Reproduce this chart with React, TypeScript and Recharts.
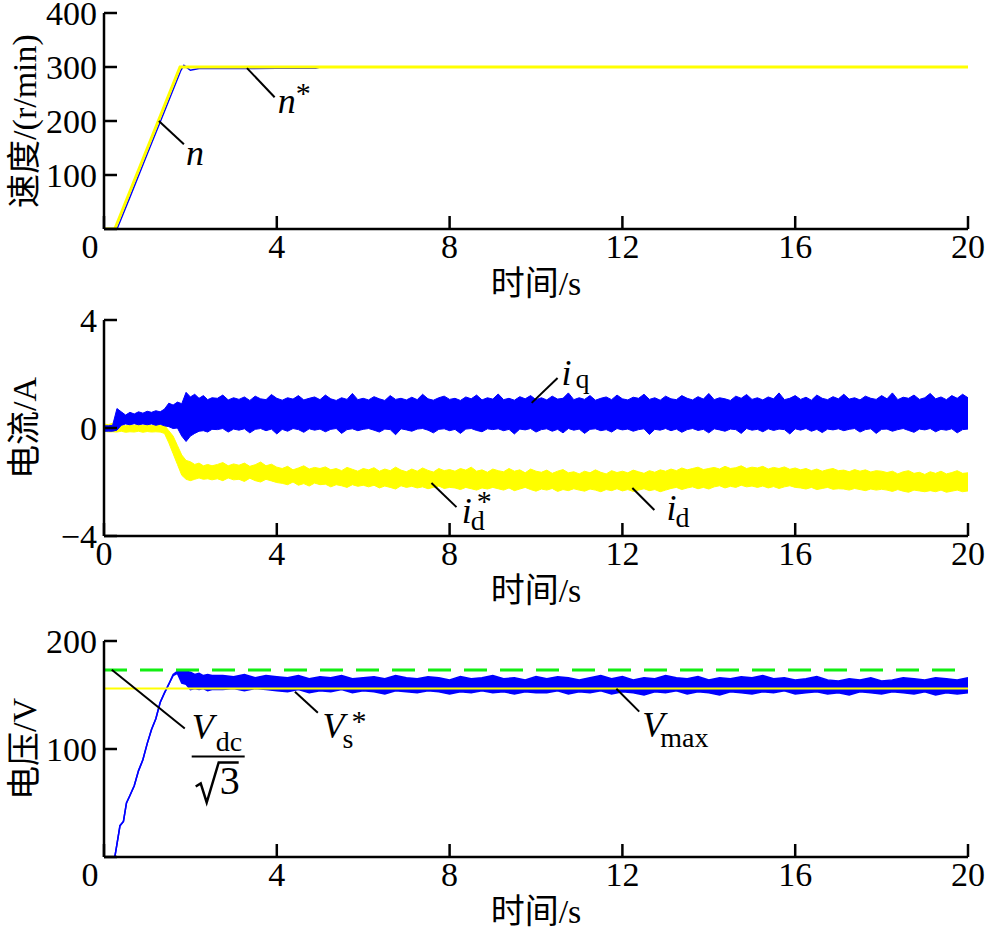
import React from 'react';
import { ComposedChart, Line, Area, XAxis, YAxis, ReferenceLine, ReferenceDot } from 'recharts';

const FONT = '"Liberation Serif", "Noto Sans CJK SC", serif';
const BLUE = '#0000ff';
const YELLOW = '#ffff00';
const GREEN = '#11ee11';

// ---- tick labels ----
const timeTicks = [0, 4, 8, 12, 16, 20];
const speedTicks = [0, 100, 200, 300, 400];
const currentTicks = [-4, 0, 4];
const voltageTicks = [0, 100, 200];

// ---- speed panel ----
const speedRefTime = [0, 0.25, 1.76, 20];
const speedRefValue = [0, 0, 300, 300];
const speedTime = [0, 0.3, 0.6, 1.0, 1.4, 1.78, 1.85, 1.92, 2.0, 2.2, 3.0, 4.0, 4.9, 5.0, 20];
const speedValue = [0, 0, 59, 139, 218, 294, 303, 299, 294, 297, 297, 297.5, 297.5, 300, 300];

// ---- current panel ----
const currentTime = [0, 0.1, 0.2, 0.3, 0.4, 0.5, 0.6, 0.7, 0.8, 0.9, 1, 1.1, 1.2, 1.3, 1.4, 1.5, 1.6, 1.7, 1.8, 1.9, 2, 2.1, 2.2, 2.3, 2.4, 2.5,
  2.625, 2.75, 2.875, 3,
  3.125, 3.25, 3.375, 3.5, 3.625, 3.75, 3.875, 4,
  4.125, 4.25, 4.375, 4.5, 4.625, 4.75, 4.875, 5,
  5.125, 5.25, 5.375, 5.5, 5.625, 5.75, 5.875, 6,
  6.125, 6.25, 6.375, 6.5, 6.625, 6.75, 6.875, 7,
  7.125, 7.25, 7.375, 7.5, 7.625, 7.75, 7.875, 8,
  8.125, 8.25, 8.375, 8.5, 8.625, 8.75, 8.875, 9,
  9.125, 9.25, 9.375, 9.5, 9.625, 9.75, 9.875, 10,
  10.125, 10.25, 10.375, 10.5, 10.625, 10.75, 10.875, 11,
  11.125, 11.25, 11.375, 11.5, 11.625, 11.75, 11.875, 12,
  12.125, 12.25, 12.375, 12.5, 12.625, 12.75, 12.875, 13,
  13.125, 13.25, 13.375, 13.5, 13.625, 13.75, 13.875, 14,
  14.125, 14.25, 14.375, 14.5, 14.625, 14.75, 14.875, 15,
  15.125, 15.25, 15.375, 15.5, 15.625, 15.75, 15.875, 16,
  16.125, 16.25, 16.375, 16.5, 16.625, 16.75, 16.875, 17,
  17.125, 17.25, 17.375, 17.5, 17.625, 17.75, 17.875, 18,
  18.125, 18.25, 18.375, 18.5, 18.625, 18.75, 18.875, 19,
  19.125, 19.25, 19.375, 19.5, 19.625, 19.75, 19.875, 20];
const iqHigh = [0.08, 0.08, 0.1, 0.72, 0.6, 0.48, 0.58, 0.52, 0.6, 0.55, 0.62, 0.58, 0.64, 0.6, 0.7, 0.92, 0.85, 0.96, 0.9, 1.32, 1.15, 1.25, 1.1, 1.2, 1.05, 1.12,
  1.1, 1.22, 1.04, 1.12,
  1.06, 1.15, 1.02, 1.18, 1.08, 1.05, 1.24, 1.1,
  1.03, 1.12, 1.07, 1.2, 1.04, 1.1, 1.15, 1.05,
  1.22, 1.08, 1.02, 1.12, 1.06, 1.28, 1.05, 1.1,
  1.04, 1.16, 1.08, 1.02, 1.2, 1.06, 1.1, 1.04,
  1.14, 1.05, 1.25, 1.08, 1.03, 1.12, 1.18, 1.06,
  1.1, 1.02, 1.15, 1.08, 1.22, 1.04, 1.12, 1.07,
  1.26, 1.05, 1.1, 1.03, 1.16, 1.08, 1.2, 1.05,
  1.12, 1.04, 1.18, 1.07, 1.1, 1.3, 1.05, 1.12,
  1.06, 1.2, 1.03, 1.1, 1.15, 1.05, 1.22, 1.08,
  1.04, 1.14, 1.1, 1.25, 1.06, 1.12, 1.03, 1.18,
  1.08, 1.05, 1.2, 1.1, 1.04, 1.16, 1.07, 1.28,
  1.05, 1.12, 1.08, 1.02, 1.18, 1.1, 1.24, 1.06,
  1.12, 1.04, 1.15, 1.08, 1.3, 1.05, 1.1, 1.2,
  1.06, 1.14, 1.03, 1.22, 1.1, 1.05, 1.16, 1.08,
  1.25, 1.07, 1.12, 1.04, 1.18, 1.1, 1.06, 1.2,
  1.08, 1.3, 1.05, 1.14, 1.1, 1.22, 1.06, 1.12,
  1.28, 1.08, 1.15, 1.05, 1.2, 1.1, 1.25, 1.12];
const iqLow = [-0.12, -0.12, -0.12, -0.08, 0.1, 0.15, 0.12, 0.16, 0.12, 0.15, 0.12, 0.15, 0.1, 0.14, 0.08, 0.05, -0.02, 0.0, -0.3, -0.5, -0.3, -0.2, -0.12, -0.1, -0.15, -0.05,
  -0.06, -0.02, -0.15, -0.04,
  -0.08, -0.03, -0.18, -0.05, -0.02, -0.1, -0.04, -0.22,
  -0.05, -0.12, -0.02, -0.06, -0.16, -0.03, -0.08, -0.04,
  -0.14, -0.05, -0.02, -0.2, -0.06, -0.03, -0.1, -0.05,
  -0.02, -0.08, -0.15, -0.04, -0.06, -0.25, -0.03, -0.07,
  -0.12, -0.04, -0.02, -0.08, -0.18, -0.05, -0.03, -0.1,
  -0.05, -0.2, -0.04, -0.02, -0.09, -0.14, -0.03, -0.06,
  -0.03, -0.1, -0.05, -0.22, -0.04, -0.07, -0.02, -0.15,
  -0.06, -0.03, -0.12, -0.05, -0.18, -0.02, -0.08, -0.04,
  -0.2, -0.05, -0.03, -0.1, -0.06, -0.15, -0.02, -0.07,
  -0.04, -0.12, -0.06, -0.03, -0.24, -0.05, -0.08, -0.02,
  -0.1, -0.04, -0.16, -0.06, -0.02, -0.09, -0.05, -0.18,
  -0.03, -0.07, -0.12, -0.04, -0.06, -0.2, -0.02, -0.08,
  -0.05, -0.14, -0.03, -0.09, -0.04, -0.06, -0.22, -0.03,
  -0.08, -0.02, -0.12, -0.05, -0.17, -0.04, -0.07, -0.03,
  -0.1, -0.05, -0.02, -0.15, -0.06, -0.03, -0.2, -0.05,
  -0.04, -0.12, -0.06, -0.02, -0.09, -0.16, -0.04, -0.07,
  -0.02, -0.14, -0.05, -0.08, -0.03, -0.18, -0.06, -0.04];
const idHigh = [0.15, 0.12, 0.18, 0.1, 0.12, 0.08, 0.12, 0.1, 0.14, 0.1, 0.12, 0.1, 0.13, 0.1, 0.1, -0.1, -0.3, -0.65, -1.0, -1.2, -1.25, -1.35, -1.3, -1.4, -1.35, -1.4,
  -1.35, -1.28, -1.4, -1.33,
  -1.38, -1.3, -1.42, -1.36, -1.26, -1.4, -1.34, -1.45,
  -1.5, -1.42, -1.55, -1.48, -1.4, -1.52, -1.46, -1.5,
  -1.44, -1.55, -1.5, -1.58, -1.46, -1.53, -1.6, -1.5,
  -1.55, -1.47, -1.6, -1.52, -1.58, -1.45, -1.56, -1.62,
  -1.52, -1.6, -1.48, -1.57, -1.63, -1.5, -1.58, -1.54,
  -1.6, -1.5, -1.56, -1.45, -1.6, -1.55, -1.64, -1.52,
  -1.58, -1.62, -1.5, -1.6, -1.55, -1.66, -1.52, -1.6,
  -1.64, -1.56, -1.68, -1.6, -1.54, -1.66, -1.62, -1.7,
  -1.6, -1.66, -1.55, -1.64, -1.7, -1.58, -1.65, -1.6,
  -1.66, -1.56, -1.62, -1.68, -1.58, -1.64, -1.55, -1.6,
  -1.52, -1.58, -1.48, -1.55, -1.5, -1.45, -1.54, -1.5,
  -1.46, -1.52, -1.42, -1.5, -1.47, -1.4, -1.5, -1.45,
  -1.48, -1.42, -1.52, -1.46, -1.5, -1.44, -1.53, -1.48,
  -1.55, -1.5, -1.58, -1.52, -1.6, -1.54, -1.5, -1.58,
  -1.56, -1.62, -1.54, -1.6, -1.55, -1.63, -1.58, -1.6,
  -1.65, -1.6, -1.7, -1.62, -1.58, -1.68, -1.64, -1.72,
  -1.62, -1.68, -1.6, -1.7, -1.65, -1.58, -1.68, -1.66];
const idLow = [-0.12, -0.15, -0.14, -0.15, -0.12, -0.16, -0.14, -0.15, -0.12, -0.16, -0.13, -0.15, -0.14, -0.15, -0.2, -0.55, -0.95, -1.35, -1.75, -1.9, -1.95, -1.9, -1.85, -1.9, -1.88, -1.92,
  -1.88, -1.95, -1.85, -1.92,
  -1.9, -1.98, -1.86, -1.95, -2.0, -1.9, -1.96, -2.02,
  -2.05, -2.1, -2.0, -2.12, -2.06, -2.15, -2.04, -2.1,
  -2.08, -2.18, -2.1, -2.14, -2.2, -2.1, -2.16, -2.12,
  -2.18, -2.12, -2.22, -2.15, -2.2, -2.26, -2.14, -2.2,
  -2.16, -2.22, -2.18, -2.25, -2.2, -2.15, -2.24, -2.2,
  -2.22, -2.28, -2.2, -2.25, -2.3, -2.22, -2.26, -2.2,
  -2.25, -2.3, -2.22, -2.32, -2.26, -2.2, -2.28, -2.34,
  -2.26, -2.3, -2.24, -2.35, -2.28, -2.32, -2.25, -2.3,
  -2.34, -2.26, -2.3, -2.36, -2.28, -2.32, -2.25, -2.33,
  -2.28, -2.35, -2.3, -2.25, -2.32, -2.28, -2.36, -2.3,
  -2.24, -2.2, -2.28, -2.22, -2.18, -2.25, -2.2, -2.26,
  -2.18, -2.14, -2.22, -2.16, -2.2, -2.12, -2.18, -2.15,
  -2.2, -2.15, -2.22, -2.17, -2.24, -2.18, -2.14, -2.2,
  -2.22, -2.26, -2.2, -2.28, -2.24, -2.2, -2.27, -2.25,
  -2.26, -2.3, -2.24, -2.28, -2.32, -2.26, -2.3, -2.27,
  -2.3, -2.35, -2.28, -2.34, -2.38, -2.3, -2.33, -2.36,
  -2.32, -2.36, -2.3, -2.38, -2.34, -2.3, -2.36, -2.33];

// ---- voltage panel ----
const voltageTime = [0, 0.25, 0.3, 0.37, 0.45, 0.52, 0.6, 0.7, 0.8, 0.9, 1.0, 1.1, 1.2, 1.3, 1.4, 1.5, 1.6, 1.7, 1.8, 1.9, 2.0, 2.1, 2.2, 2.3, 2.4, 2.5,
  2.75, 3, 3.25, 3.5, 3.75, 4, 4.25, 4.5, 4.75, 5, 5.25, 5.5, 5.75, 6, 6.25, 6.5, 6.75, 7, 7.25, 7.5, 7.75, 8, 8.25, 8.5, 8.75, 9, 9.25, 9.5, 9.75, 10,
  10.25, 10.5, 10.75, 11, 11.25, 11.5, 11.75, 12, 12.25, 12.5, 12.75, 13, 13.25, 13.5, 13.75, 14, 14.25, 14.5, 14.75, 15, 15.25, 15.5, 15.75, 16,
  16.25, 16.5, 16.75, 17, 17.25, 17.5, 17.75, 18, 18.25, 18.5, 18.75, 19, 19.25, 19.5, 19.75, 20];
const vsHigh = [0, 0, 12, 29, 33, 50, 57, 66, 80, 90, 105, 118, 128, 143, 152, 160, 169, 172, 172, 172, 171, 169, 170, 168, 169, 168,
  168, 167, 169, 166, 168, 167,
  166, 168, 165, 167, 166, 168, 165, 166, 167, 165, 168, 166, 165, 167, 166, 164, 167, 165, 166, 168, 165, 166, 164, 167,
  165, 167, 166, 164, 166, 168, 165, 167, 164, 166, 165, 168, 166, 165, 167, 164, 166, 165, 167, 166,
  168, 165, 166, 164, 165, 167, 164, 163, 165, 164, 166, 163, 164, 166, 165, 164, 166, 165, 164, 166];
const vsLow = [0, 0, 12, 29, 33, 50, 57, 66, 80, 90, 105, 118, 128, 143, 152, 160, 168, 170, 161, 160, 155, 156, 155, 156, 154, 155,
  155, 156, 154, 156, 155, 154,
  153, 155, 152, 154, 153, 155, 152, 154, 153, 151, 154, 153, 152, 154, 153, 151, 153, 152, 154, 152, 153, 151, 153, 152,
  152, 154, 151, 153, 152, 154, 151, 153, 152, 150, 153, 152, 154, 151, 153, 152, 150, 153, 152, 151,
  153, 152, 154, 151, 152, 153, 151, 152, 150, 153, 152, 151, 153, 152, 151, 153, 150, 152, 151, 152];
const voltageRefTime = [0, 20];
const vmaxValue = [156, 156];
const vdcLimitValue = [173.2, 173.2];

// ---- table building ----
const speedRefData = speedRefTime.map((t, i) => ({ t, v: speedRefValue[i] }));
const speedData = speedTime.map((t, i) => ({ t, v: speedValue[i] }));
const iqData = currentTime.map((t, i) => ({ t, band: [iqLow[i], iqHigh[i]] }));
const idData = currentTime.map((t, i) => ({ t, band: [idLow[i], idHigh[i]] }));
const vsData = voltageTime.map((t, i) => ({ t, band: [vsLow[i], vsHigh[i]] }));
const vmaxData = voltageRefTime.map((t, i) => ({ t, v: vmaxValue[i] }));
const vdcData = voltageRefTime.map((t, i) => ({ t, v: vdcLimitValue[i] }));

// ---- annotations (data coordinates) ----
type Part = { text: string; dx: number; dy: number; size: number; italic?: boolean };
const speedNotes = [
  { from: [1.27, 200], to: [1.85, 157], at: [1.9, 118.5], parts: [{ text: 'n', dx: 0, dy: 0, size: 36, italic: true }] },
  { from: [3.31, 298], to: [3.95, 244], at: [4.02, 215], parts: [{ text: 'n', dx: 0, dy: 0, size: 36, italic: true }, { text: '*', dx: 18, dy: -10, size: 30 }] },
];
const currentNotes = [
  { from: [9.9, 0.93], to: [10.5, 1.85], at: [10.59, 1.59], parts: [{ text: 'i', dx: 0, dy: 0, size: 36, italic: true }, { text: 'q', dx: 14, dy: 3, size: 28 }] },
  { from: [7.58, -2.04], to: [8.16, -2.93], at: [8.28, -3.52], parts: [{ text: 'i', dx: 0, dy: 0, size: 36, italic: true }, { text: 'd', dx: 9, dy: 7, size: 28 }, { text: '*', dx: 15, dy: -12, size: 30 }] },
  { from: [12.23, -2.22], to: [12.74, -3.04], at: [13.02, -3.41], parts: [{ text: 'i', dx: 0, dy: 0, size: 36, italic: true }, { text: 'd', dx: 9, dy: 7, size: 28 }] },
];
const voltageNotes = [
  { from: [0.18, 173.3], to: [1.87, 118.9], at: [2.03, 108.8], parts: [] as Part[], fraction: true },
  { from: [4.42, 153], to: [4.95, 133.6], at: [5.06, 110.6], parts: [{ text: 'V', dx: 0, dy: 0, size: 36, italic: true }, { text: 's', dx: 20, dy: 10, size: 28 }, { text: '*', dx: 29, dy: -7, size: 30 }] },
  { from: [11.86, 155.8], to: [12.39, 134.6], at: [12.46, 111.5], parts: [{ text: 'V', dx: 0, dy: 0, size: 36, italic: true }, { text: 'max', dx: 18, dy: 10, size: 28 }] },
];

const fmt = (v: number) => (v < 0 ? '\u2212' + Math.abs(v) : String(v));
const axisStroke = { stroke: '#000', strokeWidth: 2.5 };
const TICK_LEN = 13;

const XTick = (props: any) => {
  const { x, y, payload, shiftZero } = props;
  const dx = shiftZero && payload.value === 0 ? -14 : 0;
  return (
    <g>
      <line x1={x} x2={x} y1={y} y2={y - TICK_LEN} stroke="#000" strokeWidth={2.5} />
      <text x={x + dx} y={y + 5} dy="0.71em" textAnchor="middle" fontFamily={FONT} fontSize={34} fill="#000">
        {payload.value}
      </text>
    </g>
  );
};

const YTick = (props: any) => {
  const { x, y, payload, hideZero } = props;
  return (
    <g>
      <line x1={x} x2={x + TICK_LEN} y1={y} y2={y} stroke="#000" strokeWidth={2.5} />
      {!(hideZero && payload.value === 0) && (
        <text x={x - 7} y={y} dy="0.355em" textAnchor="end" fontFamily={FONT} fontSize={34} fill="#000">
          {fmt(payload.value)}
        </text>
      )}
    </g>
  );
};

const xTitle = (props: any) => {
  const vb = props.viewBox || {};
  return (
    <text x={vb.x + vb.width / 2} y={vb.y + 66} textAnchor="middle" fontFamily={FONT} fontSize={34} fill="#000">
      时间/s
    </text>
  );
};

const yTitle = (label: string) => (props: any) => {
  const vb = props.viewBox || {};
  const cx = vb.x + 24;
  const cy = vb.y + vb.height / 2;
  return (
    <text x={cx} y={cy} transform={`rotate(-90, ${cx}, ${cy})`} textAnchor="middle" dominantBaseline="central" fontFamily={FONT} fontSize={34} fill="#000">
      {label}
    </text>
  );
};

const textLabel = (parts: Part[], fraction?: boolean) => (props: any) => {
  const vb = props.viewBox || {};
  const x = vb.x + (vb.width || 0) / 2;
  const y = vb.y + (vb.height || 0) / 2;
  return (
    <g>
      {parts.map((p, i) => (
        <text key={i} x={x + p.dx} y={y + p.dy} fontFamily={FONT} fontSize={p.size} fontStyle={p.italic ? 'italic' : 'normal'} fill="#000">
          {p.text}
        </text>
      ))}
      {fraction && (
        <g>
          <text x={x} y={y} fontFamily={FONT} fontSize={36} fontStyle="italic" fill="#000">V</text>
          <text x={x + 24} y={y + 12} fontFamily={FONT} fontSize={28} fill="#000">dc</text>
          <line x1={x} x2={x + 53} y1={y + 17} y2={y + 17} stroke="#000" strokeWidth={2} />
          <path d={`M ${x + 4} ${y + 47} L ${x + 9} ${y + 44} L ${x + 15} ${y + 63} L ${x + 27} ${y + 23} L ${x + 47} ${y + 23}`} stroke="#000" strokeWidth={2.5} fill="none" />
          <text x={x + 28} y={y + 55} fontFamily={FONT} fontSize={40} fill="#000">3</text>
        </g>
      )}
    </g>
  );
};

function frameAxes(yDomain: [number, number], yTicks: number[], title: string, shiftZero: boolean) {
  return [
    <XAxis key="xb" dataKey="t" type="number" domain={[0, 20]} ticks={timeTicks} interval={0} allowDataOverflow
      axisLine={axisStroke} tickLine={false} tickSize={0} tickMargin={0} height={81}
      tick={<XTick shiftZero={shiftZero} />} label={xTitle} />,
    <XAxis key="xt" xAxisId="top" orientation="top" type="number" domain={[0, 20]} height={0} tick={false} tickLine={false} axisLine={axisStroke} />,
    <YAxis key="yl" type="number" domain={yDomain} ticks={yTicks} interval={0} allowDataOverflow
      axisLine={axisStroke} tickLine={false} tickSize={0} tickMargin={0} width={104}
      tick={<YTick hideZero={shiftZero} />} label={yTitle(title)} />,
    <YAxis key="yr" yAxisId="right" orientation="right" type="number" domain={yDomain} width={0} tick={false} tickLine={false} axisLine={axisStroke} />,
  ];
}

function notes(list: any[]) {
  const out: any[] = [];
  list.forEach((n, i) => {
    out.push(
      <ReferenceLine key={'l' + i} segment={[{ x: n.from[0], y: n.from[1] }, { x: n.to[0], y: n.to[1] }]} stroke="#000" strokeWidth={2} />
    );
    out.push(
      <ReferenceDot key={'d' + i} x={n.at[0]} y={n.at[1]} r={0} fill="none" stroke="none" label={textLabel(n.parts, n.fraction)} />
    );
  });
  return out;
}

const W = 987;
const H = 320;
const M = { top: 23, right: 19, bottom: 0, left: 0 };

export default function App() {
  return (
    <div style={{ position: 'absolute', left: 0, top: 0, width: 987, height: 935, background: '#fff', overflow: 'hidden' }}>
      <div style={{ position: 'absolute', left: 0, top: -10 }}>
        <ComposedChart width={W} height={H} margin={M}>
          {frameAxes([0, 400], speedTicks, '速度/(r/min)', true)}
          <Line data={speedData} dataKey="v" type="linear" stroke={BLUE} strokeWidth={1.5} dot={false} activeDot={false} isAnimationActive={false} />
          <Line data={speedRefData} dataKey="v" type="linear" stroke={YELLOW} strokeWidth={3} dot={false} activeDot={false} isAnimationActive={false} />
          {notes(speedNotes)}
        </ComposedChart>
      </div>
      <div style={{ position: 'absolute', left: 0, top: 297 }}>
        <ComposedChart width={W} height={H} margin={M}>
          {frameAxes([-4, 4], currentTicks, '电流/A', false)}
          <Area data={idData} dataKey="band" type="linear" stroke={YELLOW} strokeWidth={1} fill={YELLOW} fillOpacity={1} dot={false} activeDot={false} isAnimationActive={false} />
          <Area data={iqData} dataKey="band" type="linear" stroke={BLUE} strokeWidth={1} fill={BLUE} fillOpacity={1} dot={false} activeDot={false} isAnimationActive={false} />
          {notes(currentNotes)}
        </ComposedChart>
      </div>
      <div style={{ position: 'absolute', left: 0, top: 618 }}>
        <ComposedChart width={W} height={H} margin={M}>
          {frameAxes([0, 200], voltageTicks, '电压/V', true)}
          <Area data={vsData} dataKey="band" type="linear" stroke={BLUE} strokeWidth={1.5} fill={BLUE} fillOpacity={1} dot={false} activeDot={false} isAnimationActive={false} />
          <Line data={vmaxData} dataKey="v" type="linear" stroke={YELLOW} strokeWidth={2} dot={false} activeDot={false} isAnimationActive={false} />
          <Line data={vdcData} dataKey="v" type="linear" stroke={GREEN} strokeWidth={3} strokeDasharray="23 13" dot={false} activeDot={false} isAnimationActive={false} />
          {notes(voltageNotes)}
        </ComposedChart>
      </div>
    </div>
  );
}
